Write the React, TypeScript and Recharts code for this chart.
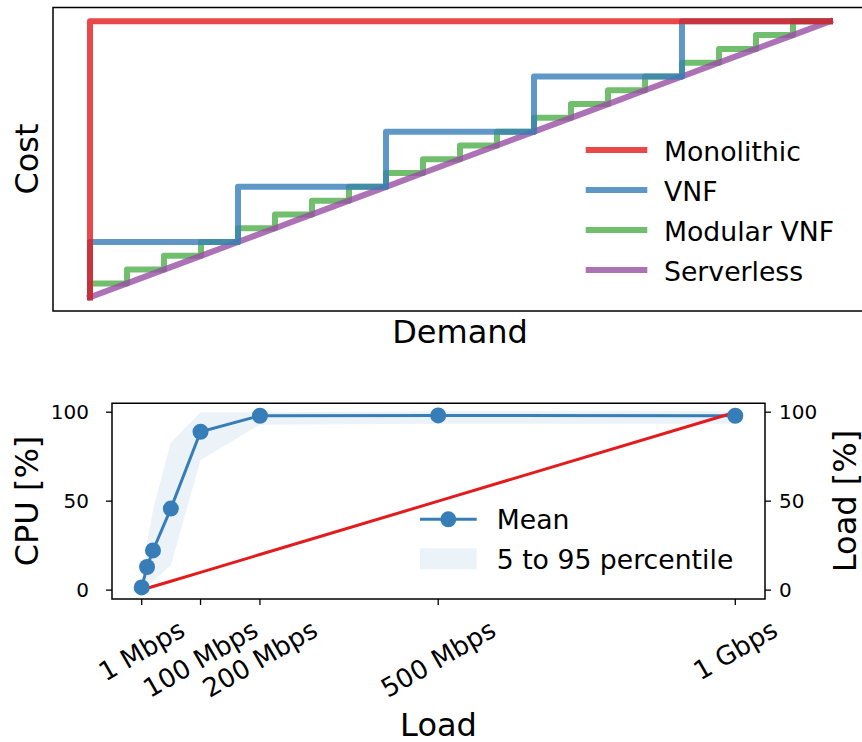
import { LineChart, ComposedChart, Line, Area, XAxis, YAxis, ReferenceArea } from 'recharts'

// top panel: cost vs demand
const demand = [0, 1, 2, 3, 4, 5, 6, 7, 8, 9, 10, 11, 12, 13, 14, 15, 16, 17, 18, 19, 20]
const monolithicCost = [0, 20, 20, 20, 20, 20, 20, 20, 20, 20, 20, 20, 20, 20, 20, 20, 20, 20, 20, 20, 20]
const vnfCost = [0, 4, 4, 4, 4, 8, 8, 8, 8, 12, 12, 12, 12, 16, 16, 16, 16, 20, 20, 20, 20]
const modularVnfCost = [0, 1, 2, 3, 4, 5, 6, 7, 8, 9, 10, 11, 12, 13, 14, 15, 16, 17, 18, 19, 20]
const serverlessCost = [0, 1, 2, 3, 4, 5, 6, 7, 8, 9, 10, 11, 12, 13, 14, 15, 16, 17, 18, 19, 20]

// bottom panel: CPU usage vs load
const loadMbps = [1, 10, 20, 50, 100, 200, 500, 1000]
const cpuMean = [1.5, 13, 22.3, 45.8, 89, 98, 98.2, 98]
const cpuP5 = [0, 2, 5, 14, 73, 93, 93.5, 93.5]
const cpuP95 = [3, 26, 45, 83, 100, 100, 100.5, 100.5]
const loadPct = [0.1, 1, 2, 5, 10, 20, 50, 100]
const loadTicks = [1, 100, 200, 500, 1000]
const loadTickLabels = ['1 Mbps', '100 Mbps', '200 Mbps', '500 Mbps', '1 Gbps']
const percentTicks = [0, 50, 100]

const FONT = '"DejaVu Sans", sans-serif'

// legend order
const costSeries = [
  { key: 'monolithic', name: 'Monolithic', color: '#e41a1c' },
  { key: 'vnf', name: 'VNF', color: '#377eb8' },
  { key: 'modular', name: 'Modular VNF', color: '#4daf4a' },
  { key: 'serverless', name: 'Serverless', color: '#984ea3' },
]
// drawing order (bottom to top)
const costDrawOrder = ['modular', 'serverless', 'vnf', 'monolithic']

const costData = demand.map((d, i) => ({
  demand: d,
  monolithic: monolithicCost[i],
  vnf: vnfCost[i],
  modular: modularVnfCost[i],
  serverless: serverlessCost[i],
}))

const cpuData = loadMbps.map((l, i) => ({
  load: l,
  mean: cpuMean[i],
  band: [cpuP5[i], cpuP95[i]],
  loadPct: loadPct[i],
}))

let measureCtx: CanvasRenderingContext2D | null = null
const textWidth = (s: string, size: number) => {
  if (!measureCtx) measureCtx = document.createElement('canvas').getContext('2d')
  if (!measureCtx) return s.length * size * 0.6
  measureCtx.font = `${size}px "DejaVu Sans"`
  return measureCtx.measureText(s).width
}

const LoadTick = (props: any) => {
  const { x, y, payload } = props
  const label = loadTickLabels[loadTicks.indexOf(payload.value)] ?? String(payload.value)
  const size = 26
  const w = textWidth(label, size)
  const h = w * 0.5 + size * 1.164 * 0.866
  const cy = y + h / 2
  return (
    <text
      x={x}
      y={cy}
      textAnchor="middle"
      dominantBaseline="central"
      transform={`rotate(-30 ${x} ${cy})`}
      fontSize={size}
      fontFamily={FONT}
      fill="#000"
    >
      {label}
    </text>
  )
}

export default function App() {
  return (
    <div
      style={{
        position: 'absolute',
        left: 0,
        top: 0,
        width: 862,
        height: 742,
        overflow: 'hidden',
        background: '#fff',
        fontFamily: FONT,
      }}
    >
      <div style={{ position: 'absolute', left: 0, top: 0 }}>
        <LineChart
          width={880}
          height={320}
          data={costData}
          margin={{ top: 7.5, right: 13, bottom: 9, left: 53 }}
        >
          <XAxis dataKey="demand" type="number" domain={[-1, 21]} hide />
          <YAxis type="number" domain={[-1, 21]} hide />
          <ReferenceArea x1={-1} x2={21} y1={-1} y2={21} fill="none" stroke="#000" strokeWidth={1.5} />
          {costDrawOrder.map((key) => {
            const s = costSeries.find((c) => c.key === key)!
            return (
              <Line
                key={s.key}
                dataKey={s.key}
                name={s.name}
                type={s.key === 'serverless' ? 'linear' : 'stepBefore'}
                stroke={s.color}
                strokeOpacity={0.8}
                strokeWidth={6}
                strokeLinecap="square"
                strokeLinejoin="round"
                dot={false}
                activeDot={false}
                isAnimationActive={false}
              />
            )
          })}
        </LineChart>
      </div>

      <div style={{ position: 'absolute', left: 0, top: 380 }}>
        <ComposedChart
          width={862}
          height={362}
          data={cpuData}
          margin={{ top: 23.3, right: 0, bottom: 43, left: 0 }}
        >
          <XAxis
            dataKey="load"
            type="number"
            domain={[-49, 1050]}
            ticks={loadTicks}
            tick={<LoadTick />}
            tickSize={6}
            tickMargin={9}
            axisLine={false}
            tickLine={{ stroke: '#000', strokeWidth: 1.3 }}
            height={100}
            interval={0}
          />
          <YAxis
            yAxisId="cpu"
            type="number"
            domain={[-5, 105]}
            ticks={percentTicks}
            width={112}
            tickSize={6}
            tickMargin={17}
            axisLine={false}
            tickLine={{ stroke: '#000', strokeWidth: 1.3 }}
            tick={{ fill: '#000', fontSize: 20, fontFamily: FONT }}
          />
          <YAxis
            yAxisId="load"
            orientation="right"
            type="number"
            domain={[-5, 105]}
            ticks={percentTicks}
            width={97}
            tickSize={6}
            tickMargin={8}
            axisLine={false}
            tickLine={{ stroke: '#000', strokeWidth: 1.3 }}
            tick={{ fill: '#000', fontSize: 20, fontFamily: FONT }}
          />
          <ReferenceArea
            yAxisId="cpu"
            x1={-49}
            x2={1050}
            y1={-5}
            y2={105}
            fill="none"
            stroke="#000"
            strokeWidth={1.5}
          />
          <Area
            yAxisId="cpu"
            dataKey="band"
            type="linear"
            fill="#377eb8"
            fillOpacity={0.1}
            stroke="none"
            activeDot={false}
            isAnimationActive={false}
          />
          <Line
            yAxisId="cpu"
            dataKey="mean"
            type="linear"
            stroke="#377eb8"
            strokeWidth={3}
            dot={{ r: 8, fill: '#377eb8', stroke: '#377eb8', strokeWidth: 0 }}
            activeDot={false}
            isAnimationActive={false}
          />
          <Line
            yAxisId="load"
            dataKey="loadPct"
            type="linear"
            stroke="#e41a1c"
            strokeWidth={3}
            dot={false}
            activeDot={false}
            isAnimationActive={false}
          />
        </ComposedChart>
      </div>

      <svg
        width={862}
        height={742}
        style={{ position: 'absolute', left: 0, top: 0, pointerEvents: 'none' }}
        fontFamily={FONT}
      >
        <text transform="translate(38.3 159) rotate(-90)" textAnchor="middle" fontSize={32}>
          Cost
        </text>
        <text x={460} y={343} textAnchor="middle" fontSize={32}>
          Demand
        </text>
        {costSeries.map((s, i) => (
          <g key={s.key}>
            <line
              x1={588.7}
              x2={644.3}
              y1={150 + 40 * i}
              y2={150 + 40 * i}
              stroke={s.color}
              strokeOpacity={0.8}
              strokeWidth={6}
              strokeLinecap="square"
            />
            <text x={664} y={160.7 + 40 * i} fontSize={26.7}>
              {s.name}
            </text>
          </g>
        ))}

        <text transform="translate(38.3 501) rotate(-90)" textAnchor="middle" fontSize={32}>
          CPU [%]
        </text>
        <text transform="translate(856 501) rotate(-90)" textAnchor="middle" fontSize={32}>
          Load [%]
        </text>
        <text x={438.5} y={736} textAnchor="middle" fontSize={32}>
          Load
        </text>

        <line x1={420} x2={476.7} y1={519.3} y2={519.3} stroke="#377eb8" strokeWidth={3} />
        <circle cx={448.3} cy={519.3} r={8} fill="#377eb8" />
        <text x={496.7} y={529.3} fontSize={26.7}>
          Mean
        </text>
        <rect x={420} y={548.3} width={56.7} height={21} fill="#377eb8" fillOpacity={0.1} />
        <text x={496.7} y={569.3} fontSize={26.7}>
          5 to 95 percentile
        </text>
      </svg>
    </div>
  )
}
